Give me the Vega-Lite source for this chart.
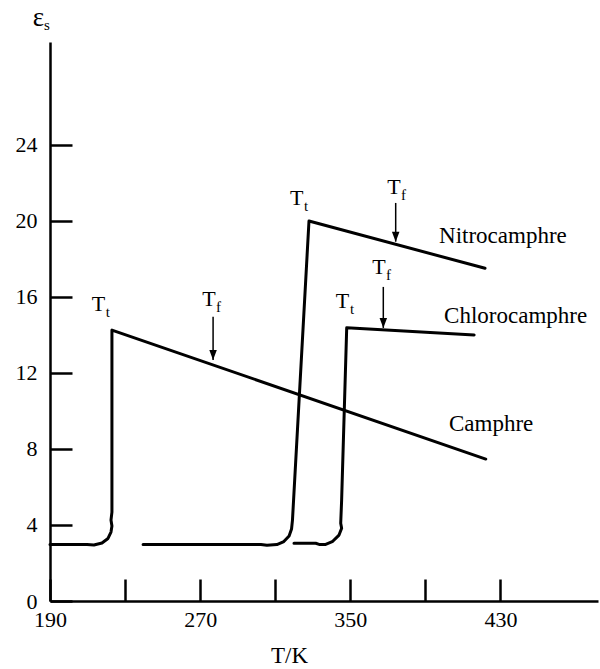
{
  "$schema": "https://vega.github.io/schema/vega-lite/v6.json",
  "width": 548,
  "height": 559,
  "autosize": {"type": "none"},
  "padding": {"left": 50, "top": 42, "right": 2, "bottom": 68},
  "background": "white",
  "config": {"view": {"stroke": null}, "font": "Liberation Serif"},
  "datasets": {
    "curves": [
      {"s": "Camphre", "i": 0, "T": 190.0, "e": 2.97},
      {"s": "Camphre", "i": 1, "T": 209.7, "e": 2.97},
      {"s": "Camphre", "i": 2, "T": 213.4, "e": 2.95},
      {"s": "Camphre", "i": 3, "T": 217.7, "e": 3.05},
      {"s": "Camphre", "i": 4, "T": 220.9, "e": 3.29},
      {"s": "Camphre", "i": 5, "T": 222.5, "e": 3.63},
      {"s": "Camphre", "i": 6, "T": 223.0, "e": 3.95},
      {"s": "Camphre", "i": 7, "T": 222.5, "e": 4.26},
      {"s": "Camphre", "i": 8, "T": 223.0, "e": 4.68},
      {"s": "Camphre", "i": 9, "T": 223.0, "e": 14.26},
      {"s": "Camphre", "i": 10, "T": 422.2, "e": 7.47},
      {"s": "Nitrocamphre", "i": 0, "T": 239.6, "e": 2.97},
      {"s": "Nitrocamphre", "i": 1, "T": 302.4, "e": 2.97},
      {"s": "Nitrocamphre", "i": 2, "T": 305.6, "e": 2.93},
      {"s": "Nitrocamphre", "i": 3, "T": 310.9, "e": 2.97},
      {"s": "Nitrocamphre", "i": 4, "T": 314.6, "e": 3.13},
      {"s": "Nitrocamphre", "i": 5, "T": 317.4, "e": 3.42},
      {"s": "Nitrocamphre", "i": 6, "T": 318.7, "e": 3.79},
      {"s": "Nitrocamphre", "i": 7, "T": 319.2, "e": 4.26},
      {"s": "Nitrocamphre", "i": 8, "T": 328.0, "e": 20.0},
      {"s": "Nitrocamphre", "i": 9, "T": 421.8, "e": 17.51},
      {"s": "Chlorocamphre", "i": 0, "T": 320.0, "e": 3.04},
      {"s": "Chlorocamphre", "i": 1, "T": 331.6, "e": 3.04},
      {"s": "Chlorocamphre", "i": 2, "T": 333.4, "e": 2.98},
      {"s": "Chlorocamphre", "i": 3, "T": 336.9, "e": 2.98},
      {"s": "Chlorocamphre", "i": 4, "T": 340.4, "e": 3.12},
      {"s": "Chlorocamphre", "i": 5, "T": 344.0, "e": 3.47},
      {"s": "Chlorocamphre", "i": 6, "T": 345.4, "e": 3.83},
      {"s": "Chlorocamphre", "i": 7, "T": 344.9, "e": 4.09},
      {"s": "Chlorocamphre", "i": 8, "T": 345.4, "e": 5.32},
      {"s": "Chlorocamphre", "i": 9, "T": 348.1, "e": 14.38},
      {"s": "Chlorocamphre", "i": 10, "T": 416.0, "e": 14.0}
    ],
    "arrows": [
      {"s": "Camphre", "T": 276.9, "top": 14.96, "tip": 12.68},
      {"s": "Nitrocamphre", "T": 374.2, "top": 20.95, "tip": 18.91},
      {"s": "Chlorocamphre", "T": 367.6, "top": 16.53, "tip": 14.37}
    ],
    "marks": [
      {"T": 215.8, "e": 15.24, "main": "T", "sub": "t"},
      {"T": 321.4, "e": 20.84, "main": "T", "sub": "t"},
      {"T": 345.9, "e": 15.42, "main": "T", "sub": "t"},
      {"T": 274.7, "e": 15.53, "main": "T", "sub": "f"},
      {"T": 373.3, "e": 21.42, "main": "T", "sub": "f"},
      {"T": 365.3, "e": 17.21, "main": "T", "sub": "f"},
      {"T": 183.3, "e": 30.37, "main": "", "sub": "s"}
    ],
    "names": [
      {"T": 397.3, "e": 18.84, "name": "Nitrocamphre"},
      {"T": 400.0, "e": 14.63, "name": "Chlorocamphre"},
      {"T": 402.6, "e": 8.95, "name": "Camphre"}
    ]
  },
  "layer": [
    {
      "data": {"name": "curves"},
      "mark": {"type": "line", "color": "black", "strokeWidth": 3, "strokeJoin": "round", "strokeCap": "round", "clip": false},
      "encoding": {
        "x": {
          "field": "T", "type": "quantitative",
          "scale": {"domain": [190, 482], "nice": false, "zero": false},
          "axis": {
            "title": "T/K",
            "values": [190, 230, 270, 310, 350, 390, 430],
            "labelExpr": "indexof([190, 270, 350, 430], datum.value) >= 0 ? datum.label : ''",
            "format": "d",
            "grid": false,
            "tickSize": -22,
            "labelPadding": 30,
            "tickWidth": 2.5,
            "tickColor": "black",
            "domainWidth": 2.5,
            "domainColor": "black",
            "labelColor": "black",
            "labelFont": "Liberation Serif",
            "labelFontSize": 22,
            "labelFlush": false,
            "labelOverlap": false,
            "titleFont": "Liberation Serif",
            "titleFontSize": 23,
            "titleFontWeight": "normal",
            "titleColor": "black",
            "titleAlign": "center",
            "titleBaseline": "alphabetic",
            "titleX": 239,
            "titleY": 61
          }
        },
        "y": {
          "field": "e", "type": "quantitative",
          "scale": {"domain": [0, 29.42], "nice": false, "zero": false},
          "axis": {
            "title": "ε",
            "values": [0, 4, 8, 12, 16, 20, 24],
            "format": "d",
            "grid": false,
            "tickSize": -22,
            "labelPadding": 35,
            "tickWidth": 2.5,
            "tickColor": "black",
            "domainWidth": 2.5,
            "domainColor": "black",
            "labelColor": "black",
            "labelFont": "Liberation Serif",
            "labelFontSize": 22,
            "labelFlush": false,
            "labelOverlap": false,
            "titleFont": "Liberation Serif",
            "titleFontSize": 27,
            "titleFontWeight": "normal",
            "titleColor": "black",
            "titleAngle": 0,
            "titleAlign": "center",
            "titleBaseline": "alphabetic",
            "titleX": -12,
            "titleY": -17
          }
        },
        "detail": {"field": "s"},
        "order": {"field": "i", "type": "quantitative"}
      }
    },
    {
      "data": {"name": "arrows"},
      "mark": {"type": "rule", "color": "black", "strokeWidth": 1.5},
      "encoding": {
        "x": {"field": "T", "type": "quantitative"},
        "y": {"field": "top", "type": "quantitative"},
        "y2": {"field": "tip"}
      }
    },
    {
      "data": {"name": "arrows"},
      "mark": {"type": "point", "shape": "M-0.75,-2L0.75,-2L0,0Z", "filled": true, "size": 100, "color": "black", "opacity": 1},
      "encoding": {
        "x": {"field": "T", "type": "quantitative"},
        "y": {"field": "tip", "type": "quantitative"}
      }
    },
    {
      "data": {"name": "marks"},
      "mark": {"type": "text", "font": "Liberation Serif", "fontSize": 22, "align": "center", "baseline": "alphabetic", "color": "black"},
      "encoding": {
        "x": {"field": "T", "type": "quantitative"},
        "y": {"field": "e", "type": "quantitative"},
        "text": {"field": "main"}
      }
    },
    {
      "data": {"name": "marks"},
      "mark": {"type": "text", "font": "Liberation Serif", "fontSize": 15, "align": "center", "baseline": "alphabetic", "dx": 9.5, "dy": 6, "color": "black"},
      "encoding": {
        "x": {"field": "T", "type": "quantitative"},
        "y": {"field": "e", "type": "quantitative"},
        "text": {"field": "sub"}
      }
    },
    {
      "data": {"name": "names"},
      "mark": {"type": "text", "font": "Liberation Serif", "fontSize": 23, "align": "left", "baseline": "alphabetic", "color": "black"},
      "encoding": {
        "x": {"field": "T", "type": "quantitative"},
        "y": {"field": "e", "type": "quantitative"},
        "text": {"field": "name"}
      }
    }
  ]
}
